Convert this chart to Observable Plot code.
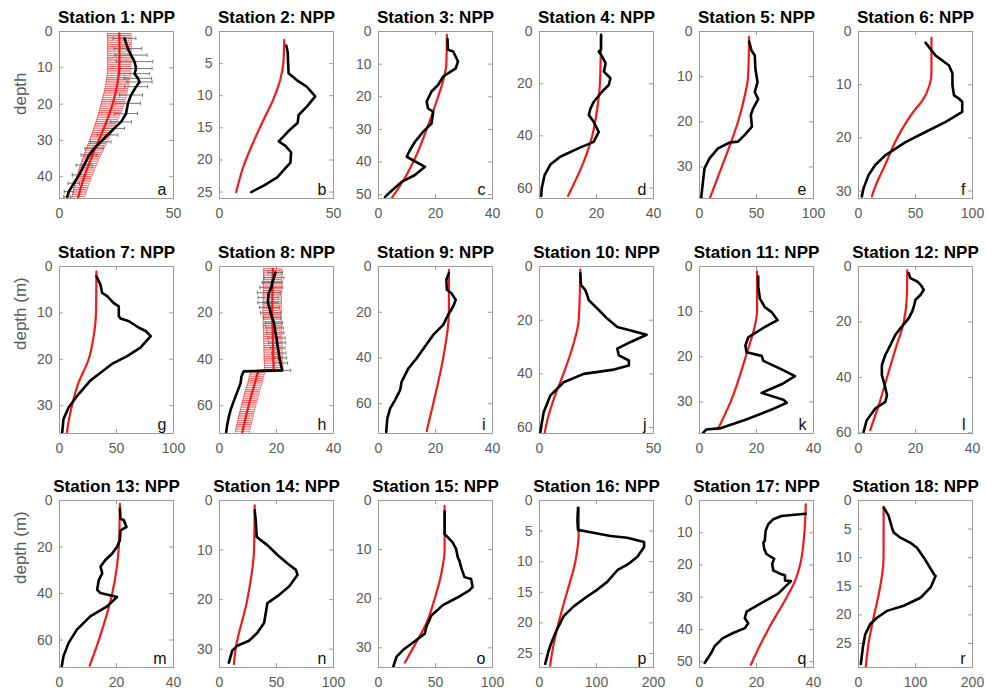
<!DOCTYPE html>
<html><head><meta charset="utf-8">
<script src="https://cdn.jsdelivr.net/npm/d3@7"></script>
<script src="https://cdn.jsdelivr.net/npm/@observablehq/plot@0.6"></script>
<style>
body{margin:0;background:#fff;}
#wrap{position:relative;width:987px;height:693px;overflow:hidden;background:#fff;font-family:"Liberation Sans",Arial,sans-serif;}
</style></head><body>
<svg width="0" height="0" style="position:absolute">
<defs><pattern id="hatchRed" patternUnits="userSpaceOnUse" width="8" height="2.2"><line x1="0" y1="0.6" x2="8" y2="0.6" stroke="#f03030" stroke-width="0.9"/></pattern></defs></svg>
<div id="wrap"></div>
<script>
// ---- data: [depth, value] pairs ----
const obs1 = [[1.9,28.5],[4.7,30],[6.5,31.4],[8.3,32.9],[10.2,33.6],[11.6,32.9],[12.9,34.4],[13.9,35.1],[15.2,33.6],[17.5,31.4],[19.8,30],[22.6,29.2],[24.9,27],[26.7,24],[28.5,21.1],[30.4,18.1],[32.2,15.2],[34,13],[36.8,10.8],[39.5,8.6],[41.8,6.3],[44.1,4.1],[45.5,3.4]];
const errObs1 = [5,6,7,8,7,6.5,6,5.5,5,5,5.5,5,4.5,4.5,4.5,4.5,4,3.5,3.5,3,2.5,2,1.5];
const mod1 = [[0.5,26.2],[5,26.3],[10,26.2],[15,25.2],[20,23.3],[25,20.5],[30,17.2],[35,13.8],[40,10.9],[45,8.5],[46,8.1]];
const errMod1 = [5.2,5.2,5.1,5,5,4.5,4,3.6,3.2,2.8,2.7];

const obs2 = [[2.2,29.3],[3.2,29.9],[6.5,30.3],[7.6,34],[8.6,38.3],[10.1,42],[11.7,38.3],[13,34.7],[14.2,34.3],[15.5,30.3],[17.1,26],[17.8,28.9],[18.8,31.4],[20.4,31.1],[22.7,25.3],[24,19.4],[25,13.9]];
const mod2 = [[1.3,28.4],[4.5,28.1],[7.6,26.6],[10.4,23.8],[13.7,19.4],[17.1,15],[20.9,10.6],[25,7.3]];

const obs3 = [[2.3,24.2],[5.6,24.4],[6.1,26.2],[9.2,27.9],[11.3,27.1],[13.8,22.7],[16.4,20.9],[18.4,18.6],[21.5,16.9],[23.6,17.4],[24.6,19.2],[28.2,18.6],[30.7,15.7],[33.8,12.8],[36.4,11],[38.4,9.9],[41.5,16.3],[44,12.8],[46.1,8.1],[49.2,4.1],[50.7,2.3]];
const mod3 = [[1,24],[10,23.8],[15,22.7],[20,20.9],[30,16.9],[40,12.2],[46,8.5],[51,4.7]];

const obs4 = [[1.3,21.6],[7,21.6],[7.7,20.8],[9.6,22],[12.2,23.2],[15.4,22.6],[17.9,24.9],[20.5,24.3],[23,22],[27,19],[29.5,17.9],[32,17.3],[34.6,19],[38.5,20.8],[42.3,19],[45,13.2],[48,7.3],[51,3.8],[55,1.8],[60,0.8],[63,0.6]];
const mod4 = [[1.3,21.6],[20,21.2],[30,20.2],[40,18.5],[50,15.5],[63,10]];

const obs5 = [[2.2,43.5],[4.2,45.6],[5.3,48.5],[8.2,49],[11.2,50.9],[13.4,48.5],[15,51.5],[17.1,47],[18.5,45],[21.1,46],[22.9,39.7],[24.4,33.8],[24.6,26.5],[25.9,16.2],[28.1,8.8],[30.3,4.4],[34.7,2.4],[36.9,1.5]];
const mod5 = [[1.2,43.5],[10,42.6],[15,39],[20,33.8],[25,27],[30,19.5],[35,12],[37,9]];

const obs6 = [[2.1,58.8],[4.5,67.6],[6.4,79.4],[7.9,82.4],[10.1,82.4],[12,83.8],[12.6,88],[13.2,91],[15.1,91],[17,76.5],[18.9,58.8],[20.8,41.2],[23.3,23.5],[25.1,14.7],[27,8.8],[29.5,4.4],[31,2.9]];
const mod6 = [[1.2,64],[8,64],[10,62.4],[13,56],[15,48.5],[20,34],[25,23.5],[30,13.2],[31,11.8]];

const obs7 = [[2.1,32.4],[3.9,35.9],[5.7,37.4],[6.4,41.8],[7.9,47.6],[8.6,52],[10.7,52],[11.2,53.5],[11.8,60.9],[13.2,69.7],[13.9,75.6],[15,80],[17.5,71],[19.3,59.4],[21,46],[22.9,36],[24.6,27],[27.5,16.8],[30.4,8],[32.9,3.5],[35.7,2.4]];
const mod7 = [[1.1,32.4],[10,32],[15,30],[20,25.6],[25,16.8],[30,10.9],[35,7],[36,6.6]];

const obs8 = [[2.6,19.6],[4.8,19.1],[6.9,18.5],[9,18.2],[11.3,17.3],[13.4,17.1],[15.6,17],[17.7,17.5],[20,17.9],[22.1,18.5],[24.3,19.1],[26.5,19.4],[28.6,19.6],[30.8,20],[32.9,20.2],[35.1,20.5],[37.3,20.8],[39.4,21],[41.6,21.4],[44.8,22],[45.2,8.5],[47.4,7.7],[50.3,7.4],[53.2,6.5],[56.1,5.6],[59,4.7],[61.8,3.9],[64.7,3.3],[68.2,2.7],[72,2.3]];
const errObs8 = [2.5,3.5,3.5,4,4,3.5,3.5,3.5,3.5,3,3,3,3,3,3,2.5,2.5,2.5,2.5,3,0,0,0,0,0,0,0,0,0,0];
const mod8 = [[1,18.7],[10,18.6],[20,18.5],[30,18.7],[40,18.9],[44.5,19],[45,13.8],[50,12.5],[55,11.3],[60,10.2],[65,9.2],[70,8.3],[71.5,8]];
const errMod8 = [3.2,3.2,3.2,3.2,3.2,3.2,2.5,2.5,2.5,2.5,2.5,2.5,2.5];

const obs9 = [[2.9,24.7],[5.8,23.8],[10.2,24],[11.7,25.6],[14.6,27.1],[17.5,26.2],[21.2,24.4],[25.5,22.7],[29.9,19.2],[35,16.3],[40.1,13.4],[44.5,10.5],[50.4,8.1],[54,7.6],[58.4,5.8],[62,4.1],[66.4,3.1],[72.3,2.7]];
const mod9 = [[1.5,24.7],[20,24.7],[40,22.7],[60,19.2],[72,16.9]];

const obs10 = [[2.5,17.9],[6.9,18.2],[8.8,20.1],[10.6,20.9],[12.5,21.6],[15.6,25.3],[19.4,29.7],[22.5,34.1],[23.8,40],[25.4,47],[28.1,40],[30.6,34.1],[33.1,34.8],[35,39.2],[36.9,39.2],[38.4,32.6],[40,19.4],[43.1,10.6],[48.1,4.7],[54.4,1.8],[61.9,0.3]];
const mod10 = [[1.2,17.9],[20,17.2],[30,14.5],[40,10.5],[50,6],[60,2.7],[62,2.3]];

const obs11 = [[2.2,20.6],[4.5,20.6],[7.1,21.2],[9,22.9],[10.1,25.3],[11.9,27.4],[13.4,22.9],[15.7,17.1],[17.5,16.1],[19,16.5],[19.8,21.8],[20.9,22.4],[22.8,28.8],[24.3,33.5],[26.1,28.8],[28,21.8],[29.5,29.4],[30.2,30.6],[31.7,25.3],[34,15.9],[35.8,7.6],[36.1,2.4],[36.9,1.2]];
const mod11 = [[1.1,20.2],[10,20.2],[11.2,20],[20,16.2],[30,10.9],[36,6.5]];

const obs12 = [[2.4,17.6],[4.2,18.2],[5.4,20.6],[6.6,21.8],[8.4,22.9],[10.2,21.8],[12,20],[14.5,19.4],[16.3,18.8],[18.7,17.6],[22.3,14.7],[24.7,12.9],[28.3,11.2],[31.9,9.4],[35.5,8.2],[39.2,8.2],[42.8,9.2],[46.4,10],[48.8,9.4],[51.2,5.9],[55.4,2.9],[59.6,1.8]];
const mod12 = [[1.4,17.1],[10,17],[20,15.9],[30,12.9],[40,10],[50,7.1],[59,4.1]];

const obs13 = [[3.6,21.2],[7.8,21.4],[8.5,22.6],[11.4,23.5],[12.8,21.4],[17.1,21.2],[19.9,20.2],[22.8,18.5],[25.6,16.1],[28.4,14.4],[31.3,15],[34.1,13.8],[38.4,13.2],[39.8,14.4],[41.5,20.2],[45.5,16.7],[49.8,10.8],[55.5,6.1],[61.2,3.2],[66.9,1.4],[71.2,0.8]];
const mod13 = [[1.4,21.2],[20,20.8],[40,18.5],[60,13.8],[71,10.6]];

const obs14 = [[2,30.9],[4,31.8],[7.3,32.6],[8,36.2],[9,42],[11,50.9],[12.7,59.7],[14,67],[15,68.5],[17.3,61.2],[19.3,50.9],[20.7,42],[22.7,40.6],[24.7,39.1],[26.7,33.2],[28.3,25.9],[29.3,15.6],[30.3,11.2],[32,9.1],[32.7,8.2]];
const mod14 = [[1,30.9],[10,30.3],[20,24.4],[30,14.1],[33,12.6]];

const obs15 = [[2.2,58],[6.9,58],[7.5,60.9],[8.6,65.2],[9.9,68.1],[11.6,69.6],[12.3,71],[13.6,72.5],[14.6,73.9],[15.6,75.4],[16,81.2],[17.6,82.6],[18.3,79.7],[19.7,69.6],[21.3,56.5],[23.4,46.4],[25.7,42],[27.1,40.6],[28.4,33.3],[30.4,21.7],[31.8,15.9],[33.8,13]];
const mod15 = [[1.1,58],[10,58],[15,55],[20,49.3],[25,42],[30,30.4],[33,23.2]];

const obs16 = [[1.2,67.6],[3.3,66.5],[4.8,67.6],[5.2,89.4],[5.8,124.7],[6.1,154],[6.8,183.5],[7.6,183.5],[9.2,171.8],[10.3,157],[11.4,136.5],[13.3,118.8],[14.6,101],[15.7,83.5],[17.3,60],[18.9,42.4],[21.1,30.6],[23,21.8],[24.6,15.9],[26.7,10]];
const mod16 = [[1.2,68.8],[5,68.8],[10,62.9],[15,48.2],[20,33.5],[25,21.8],[27,18.8]];

const obs17 = [[4.1,37.3],[4.5,32.4],[4.8,28.8],[5.8,25.9],[7.4,24.1],[9.4,23.2],[12.5,22.9],[13,22.4],[15,22.7],[16.6,23.5],[17.6,25.3],[18.1,26.2],[19.7,25.5],[21.7,25.9],[22.7,28.2],[23.2,30],[24.8,30],[25,32.1],[26.8,30],[28.9,27.6],[30.9,23.5],[33,19.4],[34.5,16.5],[36.5,15.9],[38.1,17.1],[39.6,15.9],[41.1,11.8],[42.7,8.2],[45.2,5.3],[47.3,4.1],[50.4,1.8]];
const mod17 = [[1.2,37.3],[10,36.8],[20,35.3],[25,33.5],[30,30.6],[40,24.1],[50,18.5],[51,18]];

const obs18 = [[1.2,44.1],[2.7,52.9],[4.8,58.8],[5.6,61.8],[6.5,73.5],[7.4,91.2],[8.3,102.9],[10,114.7],[12.9,132.4],[13.2,135.3],[15.2,126.5],[17,108.8],[18.4,79.4],[19.3,50],[20.5,32.4],[21.6,20.6],[23.4,11.8],[25.7,7.6],[28.6,4.1]];
const mod18 = [[1.2,44.1],[10,44],[15,38.2],[20,27.5],[25,17.6],[29,12.9]];

// ---- panel settings ----
const titles = d3.range(1, 19).map(i => `Station ${i}: NPP`);
const letters = ["a","b","c","d","e","f","g","h","i","j","k","l","m","n","o","p","q","r"];
const yLabels = ["depth","","","","","","depth (m)","","","","","","depth (m)","","","","",""];
const xMax = [50,50,40,40,100,100, 100,40,40,50,40,40, 40,100,100,200,40,200];
const yMax = [46,26,51.2,64,37,31.4, 36,72,73,62.2,37,60.2, 71.8,33.7,34,27.3,51.8,29.2];
const xTicks = [[0,50],[0,50],[0,20,40],[0,20,40],[0,50,100],[0,50,100],
                [0,50,100],[0,20,40],[0,20,40],[0,50],[0,20,40],[0,20,40],
                [0,20,40],[0,50,100],[0,50,100],[0,100,200],[0,20,40],[0,100,200]];
const yTicks = [[0,10,20,30,40],[0,5,10,15,20,25],[0,10,20,30,40,50],[0,20,40,60],[0,10,20,30],[0,10,20,30],
                [0,10,20,30],[0,20,40,60],[0,20,40,60],[0,20,40,60],[0,10,20,30],[0,20,40,60],
                [0,20,40,60],[0,10,20,30],[0,10,20,30],[0,5,10,15,20,25],[0,10,20,30,40,50],[0,5,10,15,20,25]];
const obsList = [obs1,obs2,obs3,obs4,obs5,obs6,obs7,obs8,obs9,obs10,obs11,obs12,obs13,obs14,obs15,obs16,obs17,obs18];
const modList = [mod1,mod2,mod3,mod4,mod5,mod6,mod7,mod8,mod9,mod10,mod11,mod12,mod13,mod14,mod15,mod16,mod17,mod18];
const errObs = {0: errObs1, 7: errObs8};
const errMod = {0: errMod1, 7: errMod8};

// ---- layout ----
const colLefts = [59, 219, 378, 539, 699, 858];
const rowTops = [31, 266, 500];
const W = 114, H = 167;
const mL = 50, mR = 10, mT = 31, mB = 28;
const axisGray = "#5a5a5a", frameGray = "#9a9a9a";
const vbar = {draw(ctx, size) { const h = Math.sqrt(size) / 2; ctx.moveTo(0, -h); ctx.lineTo(0, h); }};

const wrap = document.getElementById("wrap");
const Y = d => d[0], X = d => d[1];

titles.forEach((title, i) => {
  const row = Math.floor(i / 6), col = i % 6;
  const obs = obsList[i], mod = modList[i];
  const marks = [
    Plot.frame({stroke: frameGray}),
    Plot.tickY(yTicks[i], {y: d => d, insetRight: W - 4, stroke: frameGray}),
    Plot.tickY(yTicks[i], {y: d => d, insetLeft: W - 4, stroke: frameGray}),
    Plot.tickX(xTicks[i], {x: d => d, insetTop: H - 4, stroke: frameGray}),
    Plot.tickX(xTicks[i], {x: d => d, insetBottom: H - 4, stroke: frameGray}),
    Plot.axisX({ticks: xTicks[i], tickSize: 0, tickPadding: 10, fontSize: 14, color: axisGray, label: null}),
    Plot.axisY({ticks: yTicks[i], tickSize: 0, tickPadding: 7, fontSize: 14, color: axisGray, label: null})
  ];
  if (errMod[i]) {
    const em = errMod[i];
    const lo = (d, j) => d[1] - em[j], hi = (d, j) => d[1] + em[j];
    marks.push(
      Plot.areaX(mod, {y: Y, x1: lo, x2: hi, fill: "url(#hatchRed)", curve: "monotone-y", clip: true}),
      Plot.line(mod, {y: Y, x: lo, stroke: "#f04040", strokeWidth: 0.8, strokeDasharray: "1.5,1", curve: "monotone-y", clip: true}),
      Plot.line(mod, {y: Y, x: hi, stroke: "#f04040", strokeWidth: 0.8, strokeDasharray: "1.5,1", curve: "monotone-y", clip: true})
    );
  }
  if (errObs[i]) {
    const eo = errObs[i];
    const lo = (d, j) => d[1] - eo[j], hi = (d, j) => d[1] + eo[j];
    const keep = (d, j) => eo[j] > 0;
    marks.push(
      Plot.ruleY(obs, {y: Y, x1: lo, x2: hi, stroke: "#6a6a6a", strokeWidth: 0.9, filter: keep}),
      Plot.dot(obs, {y: Y, x: lo, symbol: vbar, r: 2, fill: "none", stroke: "#6a6a6a", strokeWidth: 0.9, filter: keep}),
      Plot.dot(obs, {y: Y, x: hi, symbol: vbar, r: 2, fill: "none", stroke: "#6a6a6a", strokeWidth: 0.9, filter: keep})
    );
  }
  marks.push(
    Plot.line(mod, {x: X, y: Y, stroke: "#f01a1a", strokeWidth: 2.2, curve: "monotone-y", clip: true}),
    Plot.line(obs, {x: X, y: Y, stroke: "#000", strokeWidth: 2.6, strokeLinejoin: "round", clip: true}),
    Plot.text([letters[i]], {text: d => d, frameAnchor: "bottom-right", dx: -7, dy: -4, textAnchor: "end", lineAnchor: "bottom", fontSize: 16, fill: "#111"}),
    Plot.text([title], {text: d => d, frameAnchor: "top", dy: -14, lineAnchor: "middle", fontSize: 17, fontWeight: "bold", fill: "#000"})
  );
  if (yLabels[i]) {
    marks.push(Plot.text([yLabels[i]], {text: d => d, frameAnchor: "left", dx: -39, rotate: -90, lineAnchor: "middle", fontSize: 17, fill: axisGray}));
  }
  const svg = Plot.plot({
    width: mL + W + mR, height: mT + H + mB,
    marginLeft: mL, marginRight: mR, marginTop: mT, marginBottom: mB,
    x: {domain: [0, xMax[i]]},
    y: {domain: [0, yMax[i]], reverse: true},
    marks
  });
  svg.style.position = "absolute";
  svg.style.left = (colLefts[col] - mL) + "px";
  svg.style.top = (rowTops[row] - mT) + "px";
  svg.style.background = "none";
  svg.style.overflow = "visible";
  svg.style.maxWidth = "none";
  svg.style.fontFamily = '"Liberation Sans", Arial, sans-serif';
  wrap.appendChild(svg);
});
</script>
</body></html>
